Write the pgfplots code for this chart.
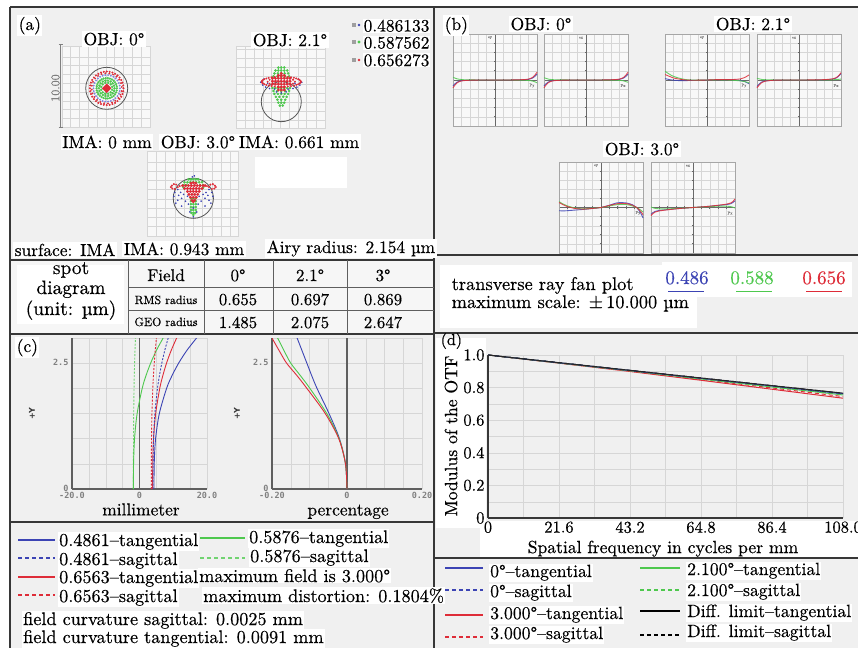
\documentclass[border=0pt]{standalone}
\usepackage{fontspec}
\setmainfont{lmroman10-regular.otf}[FakeBold=0.4]
\usepackage{pgfplots}
\pgfplotsset{compat=1.18}
\newfontfamily\monof{DejaVu Sans Mono}
\newfontfamily\sansf{DejaVu Sans}
\newcommand{\fsz}[1]{\fontsize{#1}{#1}\selectfont}
\definecolor{bgg}{RGB}{240,240,240}
\definecolor{gridc}{RGB}{214,214,214}
\definecolor{frm}{RGB}{55,55,55}
\definecolor{cb}{RGB}{60,68,180}
\definecolor{cg}{RGB}{78,200,78}
\definecolor{cr}{RGB}{222,44,56}
\definecolor{cbl}{RGB}{125,130,220}
\tikzset{lab/.style={font=\fsz{17.4}, inner sep=1.5pt, fill=white, anchor=base},
 labw/.style={lab, anchor=base west},
 lg/.style={font=\fsz{18.2}, inner sep=1pt, fill=white, anchor=base west},
 lgd/.style={lg, font=\fsz{17.7}}}
\pgfplotsset{
 spot/.style={scale only axis, anchor=south west, xticklabels={}, yticklabels={}, major tick length=0pt, grid=major, major grid style={gridc, line width=0.35pt}, axis line style={gridc}, axis background/.style={fill=white!55!bgg}, clip=false},
 fan/.style={scale only axis, anchor=south west, width=84pt, height=92pt, xmin=-1, xmax=1, ymin=-10, ymax=10, axis lines=middle, axis line style={-, draw=frm!75, line width=0.5pt}, xtick={-1,-0.8,-0.6,-0.4,-0.2,0,0.2,0.4,0.6,0.8,1}, ytick={-10,-8,-6,-4,-2,0,2,4,6,8,10}, xticklabels={}, yticklabels={}, grid=major, major grid style={gridc, line width=0.35pt}, major tick length=2.2pt, tick style={frm!75, line width=0.9pt}, axis background/.style={fill=white!50!bgg}, clip=false},
 fanline/.style={line width=0.9pt, smooth, opacity=0.85},
 fc/.style={scale only axis, anchor=south west, height=151pt, ymin=0, ymax=3, axis x line=bottom, axis y line=left, axis line style={-, draw=frm!80, line width=1.3pt}, ytick={0,2.5}, yticklabels={0,2.5}, minor ytick={0.5,1,1.5,2,3}, grid=both, major grid style={gridc, line width=0.4pt}, minor grid style={gridc, line width=0.4pt}, major tick length=0pt, minor tick length=0pt, tick label style={font=\monof\bfseries\fsz{8.5}, text=gray}, yticklabel style={yshift=1pt}, ylabel={+Y}, ylabel style={font=\sansf\bfseries\fsz{8}, text=frm}, xlabel style={font=\fsz{17.4}, anchor=base}},
 fcl/.style={line width=0.9pt, smooth},
 fcd/.style={line width=0.9pt, smooth, dash pattern=on 2pt off 1.5pt},
}
\begin{document}
\begin{tikzpicture}
\path[use as bounding box] (0pt,0pt) rectangle (858pt,-648pt);
\begin{scope}[x=1pt,y=-1pt]
\fill[white] (0,0) rectangle (858,648);
\fill[bgg] (10,7) rectangle (434,260);
\fill[bgg] (434,7) rectangle (858,255);
\fill[bgg] (434,255) rectangle (858,333);
\fill[white] (440,265) rectangle (697,328);
\fill[white] (662,262) rectangle (852,297);
\fill[bgg!60!white] (10,260) rectangle (434,334);
\fill[white] (17,265) rectangle (124,324);
\fill[bgg] (10,334) rectangle (434,522);
\fill[bgg] (10,522) rectangle (434,648);
\fill[bgg] (434,333) rectangle (858,558);
\fill[white] (480,521) rectangle (858,557);
\fill[white] (436,338) rectangle (486,528);
\fill[bgg] (434,558) rectangle (858,648);
\fill[white] (255,157) rectangle (347,188);
\end{scope}

% ---------------- spot diagrams ----------------
\begin{axis}[spot, at={(61.7pt,-127pt)}, width=88.3pt, height=81pt, xmin=-4.62, xmax=4.44, ymin=-3.97, ymax=4.34,
 xtick={-3.71,-2.81,-1.9,-1,-0.09,0.81,1.72,2.62,3.53}, ytick={-3.07,-2.17,-1.27,-0.37,0.53,1.43,2.33,3.23}]
\addplot[only marks, mark=*, mark size=0.8pt, cr, data cs=polar] coordinates {(0,1.72)(10,1.72)(20,1.72)(30,1.72)(40,1.72)(50,1.72)(60,1.72)(70,1.72)(80,1.72)(90,1.72)(100,1.72)(110,1.72)(120,1.72)(130,1.72)(140,1.72)(150,1.72)(160,1.72)(170,1.72)(180,1.72)(190,1.72)(200,1.72)(210,1.72)(220,1.72)(230,1.72)(240,1.72)(250,1.72)(260,1.72)(270,1.72)(280,1.72)(290,1.72)(300,1.72)(310,1.72)(320,1.72)(330,1.72)(340,1.72)(350,1.72)};
\addplot[only marks, mark=*, mark size=0.7pt, cr, data cs=polar] coordinates {(5,1.55)(20,1.55)(35,1.55)(50,1.55)(65,1.55)(80,1.55)(95,1.55)(110,1.55)(125,1.55)(140,1.55)(155,1.55)(170,1.55)(185,1.55)(200,1.55)(215,1.55)(230,1.55)(245,1.55)(260,1.55)(275,1.55)(290,1.55)(305,1.55)(320,1.55)(335,1.55)(350,1.55)};
\addplot[only marks, mark=*, mark size=0.7pt, cbl, data cs=polar] coordinates {(0,1.36)(12,1.36)(24,1.36)(36,1.36)(48,1.36)(60,1.36)(72,1.36)(84,1.36)(96,1.36)(108,1.36)(120,1.36)(132,1.36)(144,1.36)(156,1.36)(168,1.36)(180,1.36)(192,1.36)(204,1.36)(216,1.36)(228,1.36)(240,1.36)(252,1.36)(264,1.36)(276,1.36)(288,1.36)(300,1.36)(312,1.36)(324,1.36)(336,1.36)(348,1.36)};
\addplot[only marks, mark=*, mark size=0.9pt, cg, data cs=polar] coordinates {(0,1.05)(12,1.05)(24,1.05)(36,1.05)(48,1.05)(60,1.05)(72,1.05)(84,1.05)(96,1.05)(108,1.05)(120,1.05)(132,1.05)(144,1.05)(156,1.05)(168,1.05)(180,1.05)(192,1.05)(204,1.05)(216,1.05)(228,1.05)(240,1.05)(252,1.05)(264,1.05)(276,1.05)(288,1.05)(300,1.05)(312,1.05)(324,1.05)(336,1.05)(348,1.05)};
\addplot[only marks, mark=*, mark size=1pt, cg, data cs=polar] coordinates {(0,0.8)(20,0.8)(40,0.8)(60,0.8)(80,0.8)(100,0.8)(120,0.8)(140,0.8)(160,0.8)(180,0.8)(200,0.8)(220,0.8)(240,0.8)(260,0.8)(280,0.8)(300,0.8)(320,0.8)(340,0.8)(15,0.58)(45,0.58)(75,0.58)(105,0.58)(135,0.58)(165,0.58)(195,0.58)(225,0.58)(255,0.58)(285,0.58)(315,0.58)(345,0.58)};
\addplot[only marks, mark=*, mark size=1.3pt, cr] coordinates {(0,0)(0.22,0)(-0.22,0)(0,0.22)(0,-0.22)(0.16,0.16)(-0.16,0.16)(0.16,-0.16)(-0.16,-0.16)(0.32,0)(-0.32,0)(0,0.32)(0,-0.32)};
\draw[frm!85, line width=0.8pt] (axis cs:0,0) circle [radius=2.154];
\end{axis}

\begin{axis}[spot, at={(236.5pt,-128.5pt)}, width=88.5pt, height=82pt, xmin=-4.59, xmax=4.48, ymin=-2.75, ymax=5.66,
 xtick={-3.7,-2.8,-1.9,-1,-0.1,0.8,1.7,2.6,3.6}, ytick={-1.85,-0.95,-0.05,0.85,1.75,2.65,3.55,4.45,5.35}]
\addplot[only marks, mark=*, mark size=1.1pt, cg] coordinates {(-0.3,3.5)(0,3.5)(0.3,3.5)(-0.6,3.2)(-0.3,3.2)(0,3.2)(0.3,3.2)(0.6,3.2)(-0.7,2.9)(-0.35,2.9)(0,2.9)(0.35,2.9)(0.7,2.9)(-0.8,2.6)(-0.4,2.6)(0,2.6)(0.4,2.6)(0.8,2.6)(-0.9,1.4)(-0.6,1.4)(-0.3,1.4)(0,1.4)(0.3,1.4)(0.6,1.4)(0.9,1.4)(-0.8,1.1)(-0.4,1.1)(0,1.1)(0.4,1.1)(0.8,1.1)(-0.7,0.8)(-0.35,0.8)(0,0.8)(0.35,0.8)(0.7,0.8)(-0.55,0.5)(-0.2,0.5)(0.2,0.5)(0.55,0.5)(-0.4,0.2)(0,0.2)(0.4,0.2)(-0.3,-0.1)(0,-0.1)(0.3,-0.1)(-0.15,-0.4)(0.15,-0.4)};
\addplot[only marks, mark=*, mark size=0.6pt, cb] coordinates {(-1.9,1.7)(-1.6,1.5)(-1.2,1.35)(-0.7,1.3)(0.7,1.3)(1.2,1.35)(1.6,1.5)(1.9,1.7)(-1.4,1.9)(1.4,1.9)(-0.5,1.0)(0.5,1.0)(0,0.9)(-1.8,2.3)(1.8,2.3)(-2.1,2.0)(2.1,2.0)};
\addplot[only marks, mark=*, mark size=0.75pt, cr] coordinates {(2.0,2.05)(1.97,2.14)(1.88,2.23)(1.73,2.31)(1.53,2.38)(1.29,2.45)(1.0,2.5)(0.68,2.54)(0.35,2.56)(0,2.57)(-0.35,2.56)(-0.68,2.54)(-1.0,2.5)(-1.29,2.45)(-1.53,2.38)(-1.73,2.31)(-1.88,2.23)(-1.97,2.14)(-2.0,2.05)(-1.97,1.96)(-1.88,1.87)(-1.73,1.79)(-1.53,1.72)(-1.29,1.65)(-1.0,1.6)(-0.68,1.56)(-0.35,1.54)(0,1.53)(0.35,1.54)(0.68,1.56)(1.0,1.6)(1.29,1.65)(1.53,1.72)(1.73,1.79)(1.88,1.87)(1.97,1.96)(1.4,2.05)(-1.4,2.05)(1.2,2.25)(-1.2,2.25)(1.2,1.85)(-1.2,1.85)};
\addplot[only marks, mark=*, mark size=1.3pt, cr] coordinates {(-0.3,1.2)(0,1.2)(0.3,1.2)(-0.3,1.5)(0,1.5)(0.3,1.5)(-0.3,1.8)(0,1.8)(0.3,1.8)(-0.3,2.1)(0,2.1)(0.3,2.1)(-0.3,2.4)(0,2.4)(0.3,2.4)(-0.3,2.7)(0,2.7)(0.3,2.7)(0,2.9)(-0.9,1.8)(-0.6,1.8)(0.6,1.8)(0.9,1.8)(-0.9,2.1)(-0.6,2.1)(0.6,2.1)(0.9,2.1)(-0.9,2.4)(-0.6,2.4)(0.6,2.4)(0.9,2.4)};
\draw[frm!85, line width=0.8pt] (axis cs:0,0) circle [radius=2.05];
\end{axis}

\begin{axis}[spot, at={(147pt,-236pt)}, width=91pt, height=85pt, xmin=-4.75, xmax=4.58, ymin=-3.87, ymax=4.85,
 xtick={-3.8,-2.85,-1.9,-0.95,0,0.95,1.9,2.85,3.8}, ytick={-2.9,-1.95,-1,-0.05,0.9,1.85,2.8,3.75}]
\addplot[only marks, mark=*, mark size=1.1pt, cg] coordinates {(-0.5,1.95)(-0.25,1.95)(0,1.95)(0.25,1.95)(0.5,1.95)(-0.9,1.65)(-0.6,1.65)(-0.3,1.65)(0,1.65)(0.3,1.65)(0.6,1.65)(0.9,1.65)(-1.0,1.35)(-0.7,1.35)(0.7,1.35)(1.0,1.35)(-1.0,1.1)(1.0,1.1)(-0.25,0)(0,0)(0.25,0)(-0.25,-0.3)(0,-0.3)(0.25,-0.3)(-0.25,-0.6)(0,-0.6)(0.25,-0.6)(-0.25,-0.9)(0,-0.9)(0.25,-0.9)(-0.25,-1.2)(0,-1.2)(0.25,-1.2)(-0.2,-1.5)(0,-1.5)(0.2,-1.5)(0,-1.7)};
\addplot[only marks, mark=*, mark size=0.6pt, cb] coordinates {(-1.6,0.9)(-1.3,0.6)(-1.0,0.4)(-1.5,0.3)(-1.2,0.0)(-0.8,-0.3)(-1.6,-0.2)(-0.5,-0.6)(1.6,0.9)(1.3,0.6)(1.0,0.4)(1.5,0.3)(1.2,0)(0.8,-0.3)(1.6,-0.2)(0.5,-0.6)(0,-1.0)(0.35,-1.4)(-0.35,-1.4)(0,-1.9)(-0.1,2.2)(0.1,2.3)(-1.9,0.6)(1.9,0.6)(-1.8,-0.5)(1.8,-0.5)(-1.2,-0.8)(1.2,-0.8)(-0.6,0.2)(0.6,0.2)(-2.0,0.2)(2.0,0.2)};
\addplot[only marks, mark=*, mark size=1.3pt, cr] coordinates {(-1.1,1.3)(-0.8,1.3)(-0.5,1.3)(-0.2,1.3)(0.1,1.3)(0.4,1.3)(0.7,1.3)(1.0,1.3)(1.2,1.3)(-0.9,1.0)(-0.6,1.0)(-0.3,1.0)(0,1.0)(0.3,1.0)(0.6,1.0)(0.9,1.0)(-0.6,0.7)(-0.3,0.7)(0,0.7)(0.3,0.7)(0.6,0.7)(-0.45,0.4)(-0.15,0.4)(0.15,0.4)(0.45,0.4)(-0.3,0.1)(0,0.1)(0.3,0.1)(-0.15,-0.2)(0.15,-0.2)(0,-0.35)(0,1.6)(-0.25,1.55)(0.25,1.55)};
\addplot[only marks, mark=*, mark size=0.8pt, cr] coordinates {(-2.2,1.3)(-2.0,1.45)(-1.75,1.4)(-2.15,1.0)(-1.9,0.95)(-1.6,1.15)(-2.3,1.15)(-1.4,1.25)(2.2,1.3)(2.0,1.45)(1.75,1.4)(2.15,1.0)(1.9,0.95)(1.6,1.15)(2.3,1.15)(1.4,1.25)};
\draw[frm!85, line width=0.8pt] (axis cs:0,0) circle [radius=2.06];
\end{axis}

% ---------------- ray fans ----------------
\begin{axis}[fan, at={(453pt,-126pt)}]
\draw[gray!70] (rel axis cs:0,0) rectangle (rel axis cs:1,1);
\node[font=\fsz{4}, text=gray] at (rel axis cs:0.44,0.96) {ey};
\node[font=\fsz{4}, text=gray] at (rel axis cs:0.94,0.44) {Py};
\addplot[fanline, cb] coordinates {(-1,-1.3)(-0.95,-0.8)(-0.9,-0.45)(-0.8,-0.15)(-0.6,-0.04)(-0.3,0)(0,0)(0.3,0)(0.6,0.04)(0.8,0.15)(0.9,0.45)(0.95,0.8)(1,1.3)};
\addplot[fanline, cg] coordinates {(-1,0.6)(-0.95,0.4)(-0.9,0.25)(-0.8,0.1)(-0.6,0.02)(0,0)(0.6,-0.02)(0.8,-0.1)(0.9,-0.25)(0.95,-0.4)(1,-0.6)};
\addplot[fanline, cr] coordinates {(-1,-1.7)(-0.95,-1.05)(-0.9,-0.6)(-0.8,-0.2)(-0.6,-0.05)(-0.3,0)(0,0)(0.3,0)(0.6,0.05)(0.8,0.2)(0.9,0.6)(0.95,1.05)(1,1.7)};
\end{axis}
\begin{axis}[fan, at={(544pt,-126pt)}]
\draw[gray!70] (rel axis cs:0,0) rectangle (rel axis cs:1,1);
\node[font=\fsz{4}, text=gray] at (rel axis cs:0.44,0.96) {ex};
\node[font=\fsz{4}, text=gray] at (rel axis cs:0.94,0.44) {Px};
\addplot[fanline, cb] coordinates {(-1,-1.3)(-0.95,-0.8)(-0.9,-0.45)(-0.8,-0.15)(-0.6,-0.04)(-0.3,0)(0,0)(0.3,0)(0.6,0.04)(0.8,0.15)(0.9,0.45)(0.95,0.8)(1,1.3)};
\addplot[fanline, cg] coordinates {(-1,0.5)(-0.95,0.35)(-0.9,0.2)(-0.8,0.08)(-0.6,0.02)(0,0)(0.6,-0.02)(0.8,-0.08)(0.9,-0.2)(0.95,-0.35)(1,-0.5)};
\addplot[fanline, cr] coordinates {(-1,-1.7)(-0.95,-1.05)(-0.9,-0.6)(-0.8,-0.2)(-0.6,-0.05)(-0.3,0)(0,0)(0.3,0)(0.6,0.05)(0.8,0.2)(0.9,0.6)(0.95,1.05)(1,1.7)};
\end{axis}
\begin{axis}[fan, at={(665pt,-126pt)}]
\draw[gray!70] (rel axis cs:0,0) rectangle (rel axis cs:1,1);
\node[font=\fsz{4}, text=gray] at (rel axis cs:0.44,0.96) {ey};
\node[font=\fsz{4}, text=gray] at (rel axis cs:0.94,0.44) {Py};
\addplot[fanline, cb] coordinates {(-1,0.3)(-0.9,0.1)(-0.8,-0.05)(-0.6,-0.15)(-0.4,-0.1)(0,0)(0.3,0.1)(0.6,0.05)(0.8,-0.1)(0.9,-0.35)(1,-0.8)};
\addplot[fanline, cg] coordinates {(-1,1.9)(-0.9,1.3)(-0.8,0.8)(-0.6,0.25)(-0.4,0.0)(0,0)(0.3,0.05)(0.6,-0.05)(0.8,-0.2)(0.9,-0.35)(1,-0.6)};
\addplot[fanline, cr] coordinates {(-1,1.2)(-0.9,0.8)(-0.8,0.45)(-0.6,0.1)(-0.4,-0.05)(0,0)(0.3,0.1)(0.6,0.1)(0.8,0.25)(0.9,0.55)(1,1.1)};
\end{axis}
\begin{axis}[fan, at={(757pt,-126pt)}]
\draw[gray!70] (rel axis cs:0,0) rectangle (rel axis cs:1,1);
\node[font=\fsz{4}, text=gray] at (rel axis cs:0.44,0.96) {ex};
\node[font=\fsz{4}, text=gray] at (rel axis cs:0.94,0.44) {Px};
\addplot[fanline, cb] coordinates {(-1,-1.4)(-0.95,-0.9)(-0.9,-0.5)(-0.8,-0.2)(-0.6,-0.05)(-0.3,0)(0,0)(0.3,0)(0.6,0.05)(0.8,0.2)(0.9,0.5)(0.95,0.9)(1,1.4)};
\addplot[fanline, cg] coordinates {(-1,0.35)(-0.95,0.25)(-0.9,0.15)(-0.8,0.05)(-0.6,0.01)(0,0)(0.6,0.01)(0.8,0.05)(0.9,0.1)(0.95,0.15)(1,0.2)};
\addplot[fanline, cr] coordinates {(-1,-1.7)(-0.95,-1.1)(-0.9,-0.65)(-0.8,-0.25)(-0.6,-0.05)(-0.3,0)(0,0)(0.3,0.02)(0.6,0.08)(0.8,0.25)(0.9,0.6)(0.95,1.0)(1,1.6)};
\end{axis}
\begin{axis}[fan, at={(559pt,-253pt)}, height=91pt]
\draw[gray!70] (rel axis cs:0,0) rectangle (rel axis cs:1,1);
\node[font=\fsz{4}, text=gray] at (rel axis cs:0.44,0.96) {ey};
\node[font=\fsz{4}, text=gray] at (rel axis cs:0.94,0.44) {Py};
\addplot[fanline, cb] coordinates {(-1,-0.7)(-0.9,-0.75)(-0.8,-0.7)(-0.6,-0.55)(-0.4,-0.4)(-0.2,-0.2)(0,0)(0.2,0.5)(0.4,1.05)(0.6,1.0)(0.75,0.6)(0.85,0)(0.95,-1.3)(1,-2.3)};
\addplot[fanline, cg] coordinates {(-1,1.3)(-0.9,0.75)(-0.8,0.35)(-0.6,-0.15)(-0.4,-0.3)(-0.2,-0.15)(0,0)(0.2,0.35)(0.4,0.65)(0.6,0.65)(0.75,0.35)(0.85,0)(0.95,-0.6)(1,-1.0)};
\addplot[fanline, cr] coordinates {(-1,1.1)(-0.9,0.6)(-0.8,0.2)(-0.6,-0.25)(-0.4,-0.35)(-0.2,-0.2)(0,0)(0.2,0.45)(0.4,0.85)(0.6,0.85)(0.75,0.5)(0.85,0)(0.95,-0.9)(1,-1.6)};
\end{axis}
\begin{axis}[fan, at={(651pt,-253pt)}, height=91pt]
\draw[gray!70] (rel axis cs:0,0) rectangle (rel axis cs:1,1);
\node[font=\fsz{4}, text=gray] at (rel axis cs:0.44,0.96) {ex};
\node[font=\fsz{4}, text=gray] at (rel axis cs:0.94,0.44) {Px};
\addplot[fanline, cb] coordinates {(-1,-1.5)(-0.95,-1.1)(-0.9,-0.85)(-0.8,-0.65)(-0.6,-0.45)(-0.3,-0.2)(0,0)(0.3,0.2)(0.6,0.45)(0.8,0.65)(0.9,0.85)(0.95,1.1)(1,1.5)};
\addplot[fanline, cg] coordinates {(-1,0.1)(-0.9,-0.2)(-0.8,-0.3)(-0.6,-0.3)(-0.3,-0.15)(0,0)(0.3,0.15)(0.6,0.3)(0.8,0.3)(0.9,0.2)(1,-0.1)};
\addplot[fanline, cr] coordinates {(-1,-1.8)(-0.95,-1.3)(-0.9,-1.0)(-0.8,-0.75)(-0.6,-0.5)(-0.3,-0.2)(0,0)(0.3,0.2)(0.6,0.5)(0.8,0.75)(0.9,1.0)(0.95,1.3)(1,1.9)};
\end{axis}

% ---------------- field curvature ----------------
\begin{axis}[fc, at={(72pt,-489pt)}, width=135pt, xmin=-20, xmax=20,
 xtick={-20,0,20}, xticklabels={-20.0,0,20.0}, minor xtick={-15,-10,-5,5,10,15},
 xlabel={millimeter}, xlabel style={at={(rel axis cs:0.511,-0.175)}},
 ylabel style={at={(rel axis cs:-0.296,0.5)}, anchor=center}]
\addplot[frm!80, line width=1.1pt] coordinates {(0,0)(0,3)};
\addplot[fcd, cg!80!white] coordinates {(-1.8,0)(-1.8,0.5)(-1.78,1)(-1.72,1.5)(-1.62,2)(-1.55,2.25)(-1.45,2.5)(-1.34,2.75)(-1.2,3)};
\addplot[fcl, cg] coordinates {(-1.8,0)(-1.76,0.5)(-1.47,1)(-0.7,1.5)(0.8,2)(1.91,2.25)(3.3,2.5)(4.98,2.75)(7.0,3)};
\addplot[fcd, cr] coordinates {(3.5,0)(3.51,0.5)(3.56,1)(3.69,1.5)(3.94,2)(4.13,2.25)(4.37,2.5)(4.66,2.75)(5.0,3)};
\addplot[fcl, cr] coordinates {(3.9,0)(3.93,0.5)(4.16,1)(4.79,1.5)(6.0,2)(6.9,2.25)(8.01,2.5)(9.37,2.75)(11.0,3)};
\addplot[fcd, cb] coordinates {(4.0,0)(4.02,0.5)(4.17,1)(4.56,1.5)(5.33,2)(5.9,2.25)(6.61,2.5)(7.47,2.75)(8.5,3)};
\addplot[fcl, cb] coordinates {(4.3,0)(4.36,0.5)(4.77,1)(5.88,1.5)(8.03,2)(9.62,2.25)(11.59,2.5)(14.0,2.75)(16.9,3)};
\end{axis}

\begin{axis}[fc, at={(272pt,-489pt)}, width=150pt, xmin=-0.2, xmax=0.2,
 xtick={-0.2,0,0.2}, xticklabels={-0.20,0,0.20}, minor xtick={-0.15,-0.1,-0.05,0.05,0.1,0.15},
 xlabel={percentage}, xlabel style={at={(rel axis cs:0.507,-0.175)}},
 ylabel style={at={(rel axis cs:-0.233,0.5)}, anchor=center}]
\addplot[frm!80, line width=1.1pt] coordinates {(0,0)(0,3)};
\addplot[fcl, cb] coordinates {(0,0)(-0.004,0.5)(-0.02,1)(-0.048,1.5)(-0.08,2)(-0.094,2.25)(-0.107,2.5)(-0.12,2.75)(-0.133,3)};
\addplot[fcl, cg] coordinates {(0,0)(-0.004,0.5)(-0.021,1)(-0.054,1.5)(-0.099,2)(-0.124,2.25)(-0.15,2.5)(-0.168,2.75)(-0.185,3)};
\addplot[fcl, cr] coordinates {(0,0)(-0.004,0.5)(-0.022,1)(-0.058,1.5)(-0.107,2)(-0.133,2.25)(-0.161,2.5)(-0.181,2.75)(-0.2,3)};
\end{axis}

% ---------------- MTF ----------------
\begin{axis}[scale only axis, anchor=south west, at={(488pt,-518pt)}, width=355pt, height=163pt,
 xmin=0, xmax=108, ymin=0, ymax=1,
 axis x line=bottom, axis y line=left, axis line style={-, draw=frm, line width=1.2pt},
 xtick={0,21.6,43.2,64.8,86.4,108}, xticklabels={0,21.6,43.2,64.8,86.4,108.0},
 minor xtick={10.8,32.4,54,75.6,97.2},
 ytick={0,0.2,0.4,0.6,0.8,1}, yticklabels={0,0.2,0.4,0.6,0.8,1.0},
 minor ytick={0.1,0.3,0.5,0.7,0.9},
 grid=both, major grid style={gridc, line width=0.4pt}, minor grid style={gridc, line width=0.4pt},
 major tick length=0pt, minor tick length=0pt,
 tick label style={font=\fsz{16.5}},
 xlabel={Spatial frequency in cycles per mm}, ylabel={Modulus of the OTF},
 xlabel style={font=\fsz{17.6}, at={(rel axis cs:0.493,-0.215)}, anchor=base},
 ylabel style={font=\fsz{17.6}, at={(rel axis cs:-0.104,0.503)}, anchor=center},
 clip=false]
\addplot[cr, line width=1pt, dash pattern=on 4pt off 3pt] coordinates {(0,1)(21.6,0.951)(43.2,0.902)(64.8,0.85)(86.4,0.798)(108,0.745)};
\addplot[cr, line width=1pt] coordinates {(0,1)(21.6,0.95)(43.2,0.899)(64.8,0.845)(86.4,0.79)(108,0.735)};
\addplot[cg, line width=1pt, dash pattern=on 4pt off 3pt] coordinates {(0,1)(21.6,0.952)(43.2,0.904)(64.8,0.855)(86.4,0.806)(108,0.758)};
\addplot[cg, line width=1pt] coordinates {(0,1)(21.6,0.951)(43.2,0.903)(64.8,0.853)(86.4,0.804)(108,0.755)};
\addplot[cb, line width=1pt, dash pattern=on 4pt off 3pt] coordinates {(0,1)(21.6,0.953)(43.2,0.905)(64.8,0.858)(86.4,0.811)(108,0.763)};
\addplot[cb, line width=1pt] coordinates {(0,1)(21.6,0.952)(43.2,0.905)(64.8,0.857)(86.4,0.81)(108,0.762)};
\addplot[black!85, line width=1pt, dash pattern=on 4pt off 3pt] coordinates {(0,1)(21.6,0.953)(43.2,0.906)(64.8,0.859)(86.4,0.812)(108,0.765)};
\addplot[black!85, line width=1pt] coordinates {(0,1)(21.6,0.953)(43.2,0.906)(64.8,0.859)(86.4,0.812)(108,0.766)};
\end{axis}

% ---------------- frames and texts ----------------
\begin{scope}[x=1pt,y=-1pt]
\draw[frm, line width=1.3pt] (10,7) -- (858,7);
\draw[frm, line width=1.3pt] (10,7) -- (10,648);
\draw[frm, line width=1.3pt] (434,7) -- (434,648);
\draw[frm, line width=1.3pt] (434,255) -- (858,255);
\draw[frm, line width=1.3pt] (434,333) -- (858,333);
\draw[frm, line width=1.3pt] (434,558) -- (858,558);
\draw[frm, line width=1.3pt] (10,522) -- (434,522);
\draw[frm, line width=1.8pt] (10,260) rectangle (434,334);
\draw[frm!80, line width=0.6pt] (128,260) -- (128,334) (204,260) -- (204,334) (273,260) -- (273,334) (347,260) -- (347,334) (128,287) -- (434,287) (128,310) -- (434,310);

% panel (a)
\node[labw] at (17,30) {(a)};
\node[lab] at (114,45) {OBJ: 0°};
\node[lab] at (290,46) {OBJ: 2.1°};
\fill[gray!75] (351.5,23) rectangle (355.5,27); \fill[cb] (359,25) circle (1.4pt);
\fill[gray!75] (351.5,40) rectangle (355.5,44); \fill[cg] (359,42) circle (1.6pt);
\fill[gray!75] (351.5,58) rectangle (355.5,62); \fill[cr] (359,60) circle (1.4pt);
\node[labw, inner sep=1pt] at (362.5,31.5) {0.486133};
\node[labw, inner sep=1pt] at (362.5,48.5) {0.587562};
\node[labw, inner sep=1pt] at (362.5,66) {0.656273};
\draw[gray, line width=0.8pt] (60.7,44) -- (60.7,127) (58.7,44) -- (62.7,44) (58.7,127) -- (62.7,127);
\node[font=\fsz{12}, text=gray, rotate=90] at (55.5,88) {10.00};
\node[lab] at (107,148) {IMA: 0 mm};
\node[lab] at (198,148) {OBJ: 3.0°};
\node[lab] at (299,148) {IMA: 0.661 mm};
\node[labw] at (13,256) {surface: IMA};
\node[lab] at (184,255) {IMA: 0.943 mm};
\node[labw] at (265,253) {Airy radius: 2.154 µm};

% table
\node[lab, fill=none, font=\fsz{19.4}] at (71,274) {spot};
\node[lab, fill=none, font=\fsz{19.4}] at (71,294) {diagram};
\node[lab, fill=none, font=\fsz{19.4}] at (71,315) {(unit: µm)};
\node[lab, fill=none, font=\fsz{17}] at (166,281) {Field};
\node[lab, fill=none, font=\fsz{17}] at (238,281) {0°};
\node[lab, fill=none, font=\fsz{17}] at (310,281) {2.1°};
\node[lab, fill=none, font=\fsz{17}] at (383,281) {3°};
\node[lab, fill=none, font=\fsz{12}] at (166,304) {RMS radius};
\node[lab, fill=none, font=\fsz{16.8}] at (238,305) {0.655};
\node[lab, fill=none, font=\fsz{16.8}] at (310,305) {0.697};
\node[lab, fill=none, font=\fsz{16.8}] at (383,305) {0.869};
\node[lab, fill=none, font=\fsz{12}] at (166,326) {GEO radius};
\node[lab, fill=none, font=\fsz{16.8}] at (238,328) {1.485};
\node[lab, fill=none, font=\fsz{16.8}] at (310,328) {2.075};
\node[lab, fill=none, font=\fsz{16.8}] at (383,328) {2.647};

% panel (b)
\node[labw] at (443,30) {(b)};
\node[lab] at (541,30) {OBJ: 0°};
\node[lab] at (753,30) {OBJ: 2.1°};
\node[lab] at (642,155) {OBJ: 3.0°};
\node[labw, fill=none, font=\fsz{18.4}] at (450,290) {transverse ray fan plot};
\node[labw, fill=none, font=\fsz{18.4}] at (450,308) {maximum scale: ±\,10.000 µm};
\node[lab, fill=none, font=\fsz{19}, text=cb] at (687,284) {0.486};
\node[lab, fill=none, font=\fsz{19}, text=cg] at (752,284) {0.588};
\node[lab, fill=none, font=\fsz{19}, text=cr] at (824,284) {0.656};
\draw[cb, line width=0.8pt] (668,291) -- (704,291);
\draw[cg, line width=0.8pt] (736,291) -- (772,291);
\draw[cr, line width=0.8pt] (806,291) -- (842,291);

% panel (c)
\node[labw] at (15,352) {(c)};
\draw[cb, line width=1.1pt] (18,540) -- (55,540);
\draw[cb, line width=1.1pt, dash pattern=on 4pt off 3pt] (18,558) -- (55,558);
\draw[cr, line width=1.1pt] (18,577) -- (55,577);
\draw[cr, line width=1.1pt, dash pattern=on 4pt off 3pt] (18,595) -- (55,595);
\draw[cg, line width=1.3pt] (200,538) -- (245,538);
\draw[cg!80!white, line width=1.3pt, dash pattern=on 4pt off 3pt] (200,558) -- (245,558);
\node[lg] at (58,546) {0.4861–tangential};
\node[lg] at (58,565) {0.4861–sagittal};
\node[lg] at (58,583) {0.6563–tangential};
\node[lg] at (58,602) {0.6563–sagittal};
\node[lg] at (248,543) {0.5876–tangential};
\node[lg] at (249,562) {0.5876–sagittal};
\node[lg] at (198,582) {maximum field is 3.000°};
\node[lg] at (202,602) {maximum distortion: 0.1804\%};
\node[lg] at (22,625) {field curvature sagittal: 0.0025 mm};
\node[lg] at (22,643) {field curvature tangential: 0.0091 mm};

% panel (d)
\node[labw, font=\fsz{16}, fill=none] at (439,345) {(d)};
\draw[cb, line width=1.1pt] (445,568) -- (483,568);
\draw[cb, line width=1.1pt, dash pattern=on 4pt off 3pt] (445,590) -- (483,590);
\draw[cr, line width=1.1pt] (445,615) -- (483,615);
\draw[cr, line width=1.1pt, dash pattern=on 4pt off 3pt] (445,637) -- (483,637);
\draw[cg, line width=1.1pt] (640,568) -- (680,568);
\draw[cg, line width=1.1pt, dash pattern=on 4pt off 3pt] (640,590) -- (680,590);
\draw[black, line width=1.1pt] (640,611) -- (680,611);
\draw[black, line width=1.1pt, dash pattern=on 4pt off 3pt] (640,635) -- (680,635);
\node[lgd] at (489,577) {0°–tangential};
\node[lgd] at (489,597) {0°–sagittal};
\node[lgd] at (489,619) {3.000°–tangential};
\node[lgd] at (489,639) {3.000°–sagittal};
\node[lgd] at (686,575) {2.100°–tangential};
\node[lgd] at (686,596) {2.100°–sagittal};
\node[lgd] at (686,617) {Diff. limit–tangential};
\node[lgd] at (686,637) {Diff. limit–sagittal};
\end{scope}
\end{tikzpicture}
\end{document}
